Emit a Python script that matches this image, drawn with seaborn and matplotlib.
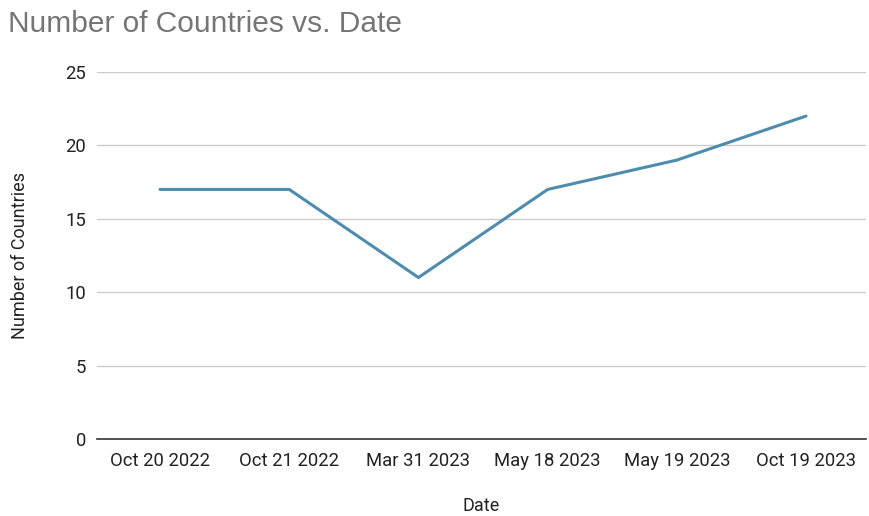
import matplotlib
matplotlib.use("Agg")
import matplotlib.pyplot as plt
import seaborn as sns
import pandas as pd

dates = ["Oct 20 2022", "Oct 21 2022", "Mar 31 2023", "May 18 2023", "May 19 2023", "Oct 19 2023"]
countries = [17, 17, 11, 17, 19, 22]

sns.set_style("white")
plt.rcParams['font.family'] = ['Roboto', 'DejaVu Sans']

df = pd.DataFrame({"Date": dates, "Number of Countries": countries})

fig = plt.figure(figsize=(8.69, 5.16), dpi=100)
ax = fig.add_axes([97 / 869, 1 - 439 / 516, 769 / 869, (439 - 72) / 516])

sns.lineplot(data=df, x="Date", y="Number of Countries", sort=False,
             color="#4e8cad", linewidth=2.2, ax=ax)

ax.set_xlim(-0.488, 5.464)
ax.set_ylim(0, 25)
ax.set_yticks([0, 5, 10, 15, 20, 25])
ax.yaxis.grid(True, color="#cccccc", linewidth=1)
ax.set_axisbelow(True)
for s in ["top", "right", "left"]:
    ax.spines[s].set_visible(False)
ax.spines["bottom"].set_color("#333333")
ax.spines["bottom"].set_linewidth(1.2)
ax.tick_params(axis="both", length=0, labelsize=13.3, colors="#222222", pad=9)
ax.tick_params(axis="y", pad=8)

ax.set_xlabel("Date", fontsize=13, color="#222222", labelpad=20)
ax.set_ylabel("Number of Countries", fontsize=13, color="#222222", labelpad=26)

fig.text(8 / 869, 1 - 24 / 516, "Number of Countries vs. Date", fontsize=21.5,
         color="#757575", family=["Liberation Sans", "DejaVu Sans"], va="center", ha="left")

fig.savefig("out.png", dpi=100)
